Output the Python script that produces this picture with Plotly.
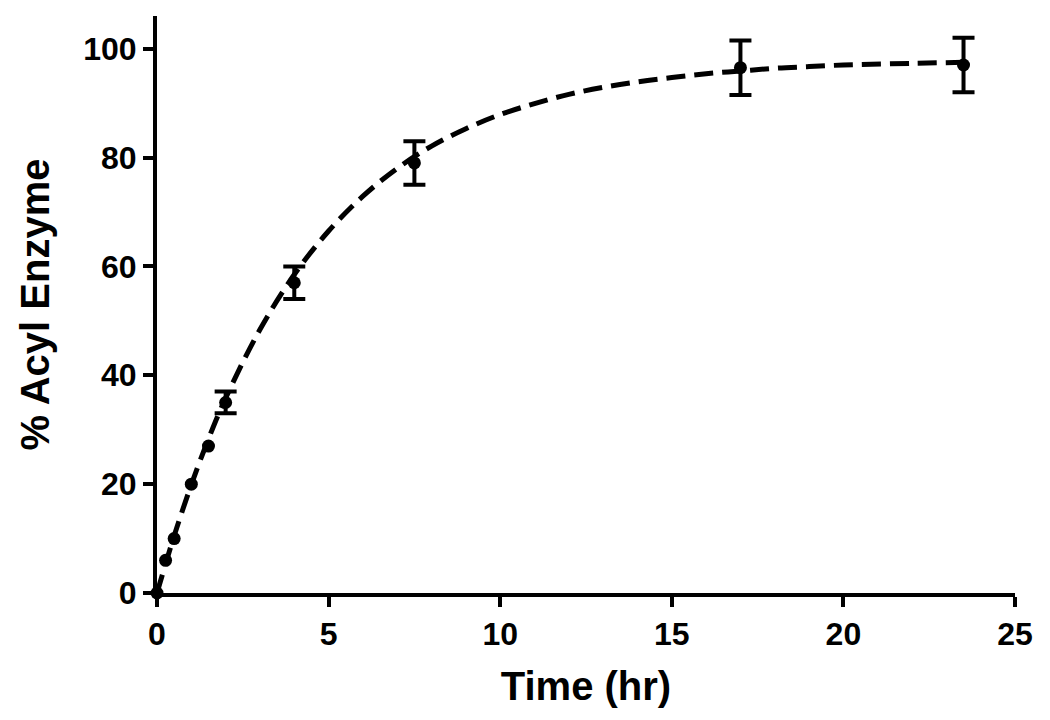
import plotly.graph_objects as go

# measured points (mean +/- error)
time_hr = [0, 0.25, 0.5, 1, 1.5, 2, 4, 7.5, 17, 23.5]
acyl_pct = [0, 6, 10, 20, 27, 35, 57, 79, 96.5, 97]
acyl_err = [None, None, None, None, None, 2, 3, 4, 5, 5]

# fitted curve
fit_t = [0, 0.5, 1, 1.5, 2, 3, 4, 5, 6, 7, 8, 9, 10, 11, 12, 13, 14,
         15, 16, 17, 18, 19, 20, 22, 23.5]
fit_y = [0, 10.5, 19.9, 28.3, 35.8, 48.4, 58.5, 66.5, 72.9, 78.0, 82.1,
         85.3, 87.9, 89.9, 91.6, 92.9, 93.9, 94.7, 95.4, 95.9, 96.4, 96.7,
         97.0, 97.3, 97.5]

x_ticks = [0, 5, 10, 15, 20, 25]
y_ticks = [0, 20, 40, 60, 80, 100]

FONT = "Liberation Sans, Arial, sans-serif"

fig = go.Figure()

fig.add_trace(go.Scatter(
    x=fit_t, y=fit_y, mode="lines",
    line=dict(color="black", width=5, dash="19px,9px", shape="spline"),
    hoverinfo="skip",
))

# points that carry an error bar vs. points that don't
with_err = [i for i, e in enumerate(acyl_err) if e is not None]
no_err = [i for i, e in enumerate(acyl_err) if e is None]

fig.add_trace(go.Scatter(
    x=[time_hr[i] for i in no_err], y=[acyl_pct[i] for i in no_err],
    mode="markers", marker=dict(color="black", size=13),
    cliponaxis=False,
))
fig.add_trace(go.Scatter(
    x=[time_hr[i] for i in with_err], y=[acyl_pct[i] for i in with_err],
    mode="markers", marker=dict(color="black", size=13),
    error_y=dict(type="data", array=[acyl_err[i] for i in with_err],
                 visible=True, color="black", thickness=4, width=11),
    cliponaxis=False,
))

axis_style = dict(
    showline=True, linecolor="black", linewidth=4,
    ticks="outside", ticklen=10, tickwidth=4, tickcolor="black",
    showgrid=False, zeroline=False, automargin=False,
    tickfont=dict(family=FONT, size=32, color="black", weight="bold"),
)

fig.update_xaxes(
    range=[0, 25], tickvals=x_ticks,
    title=dict(text="Time (hr)", standoff=22,
               font=dict(family=FONT, size=40, color="black", weight="bold")),
    **axis_style,
)
fig.update_yaxes(
    range=[0, 106], tickvals=y_ticks,
    title=dict(text="% Acyl Enzyme", standoff=22,
               font=dict(family=FONT, size=40, color="black", weight="bold")),
    **axis_style,
)

# the page body adds 8px, so margins are shifted to land where the reference is
fig.update_layout(
    width=1050, height=720,
    margin=dict(l=149, r=43, t=8, b=135),
    plot_bgcolor="white", paper_bgcolor="white",
    showlegend=False,
)

fig.write_html("out.html")
